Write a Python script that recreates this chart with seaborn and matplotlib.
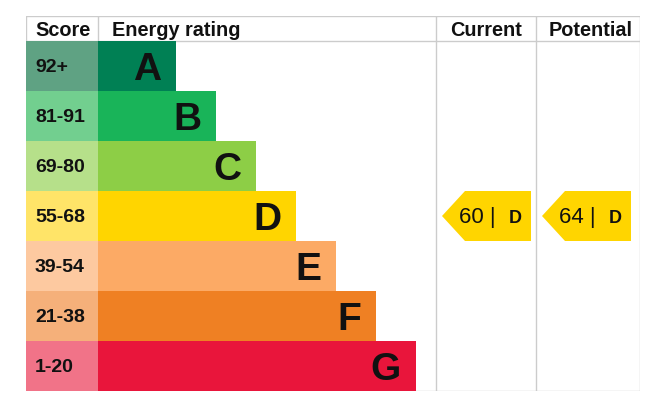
import numpy as np
import matplotlib
matplotlib.use("Agg")
import matplotlib.pyplot as plt
from matplotlib.patches import Polygon
import seaborn as sns

# -------------------------------
# Data
# -------------------------------
bands = ["A", "B", "C", "D", "E", "F", "G"]
score_ranges = ["92+", "81-91", "69-80", "55-68", "39-54", "21-38", "1-20"]
band_min = [92, 81, 69, 55, 39, 21, 1]
bar_len = [150, 190, 230, 270, 310, 350, 390]
band_colors = ["#008054", "#19b459", "#8dce46", "#ffd500", "#fcaa65", "#ef8023", "#e9153b"]
score_colors = ["#5fa283", "#72cf8f", "#b6e08a", "#ffe468", "#fdc9a0", "#f5b07a", "#f17388"]
current = 60
potential = 64

sns.set_theme(style="white")
plt.rcParams["font.family"] = ["Liberation Sans", "DejaVu Sans"]
txt = "#111111"
grid = "#cccccc"

fig = plt.figure(figsize=(6.67, 4.13), dpi=100)
ax = fig.add_axes([26 / 667, 22 / 413, 614 / 667, 375 / 413])

# -------------------------------
# Rating bars
# -------------------------------
sns.barplot(x=bar_len, y=bands, hue=bands, palette=band_colors, legend=False,
            orient="h", width=1, saturation=1, linewidth=0, ax=ax)
ax.barh(range(len(bands)), 72, height=1, color=score_colors, linewidth=0)

for i, b in enumerate(bands):
    ax.text(bar_len[i] - 15, i + 0.28, b, ha="right", va="baseline",
            fontsize=28, fontweight="bold", color=txt)
    ax.text(9, i + 0.13, score_ranges[i], ha="left", va="baseline",
            fontsize=14, fontweight="bold", color=txt)

# -------------------------------
# Table lines and header
# -------------------------------
for y in [-1.0, -0.5, 6.5]:
    ax.plot([0, 614], [y, y], color=grid, lw=1, zorder=0.5)
for x in [410, 510, 614]:
    ax.plot([x, x], [-1.0, 6.5], color=grid, lw=1, zorder=0.5)
for x in [0, 72]:
    ax.plot([x, x], [-1.0, -0.5], color=grid, lw=1, zorder=0.5)

hy = -0.61
ax.text(9, hy, "Score", ha="left", va="baseline", fontsize=14.3, fontweight="bold", color=txt)
ax.text(86, hy, "Energy rating", ha="left", va="baseline", fontsize=14.3, fontweight="bold", color=txt)
ax.text(460, hy, "Current", ha="center", va="baseline", fontsize=14.3, fontweight="bold", color=txt)
ax.text(565, hy, "Potential", ha="center", va="baseline", fontsize=14.3, fontweight="bold", color=txt)


# -------------------------------
# Current / potential arrows
# -------------------------------
def band_of(score):
    for i, m in enumerate(band_min):
        if score >= m:
            return i
    return len(bands) - 1


def arrow(tip, right, score):
    i = band_of(score)
    poly = Polygon([[tip, i], [tip + 23, i - 0.5], [right, i - 0.5],
                    [right, i + 0.5], [tip + 23, i + 0.5]],
                   closed=True, color=band_colors[i], lw=0)
    ax.add_patch(poly)
    ax.text(tip + 17, i + 0.14, f"{score} |", ha="left", va="baseline",
            fontsize=16, color=txt)
    ax.text(right - 16, i + 0.14, bands[i], ha="center", va="baseline",
            fontsize=13, fontweight="bold", color=txt)


arrow(416, 505, current)
arrow(516, 605, potential)

ax.set_xlim(0, 614)
ax.set_ylim(6.5, -1.0)
ax.set_axis_off()

plt.savefig("out.png", dpi=100)
